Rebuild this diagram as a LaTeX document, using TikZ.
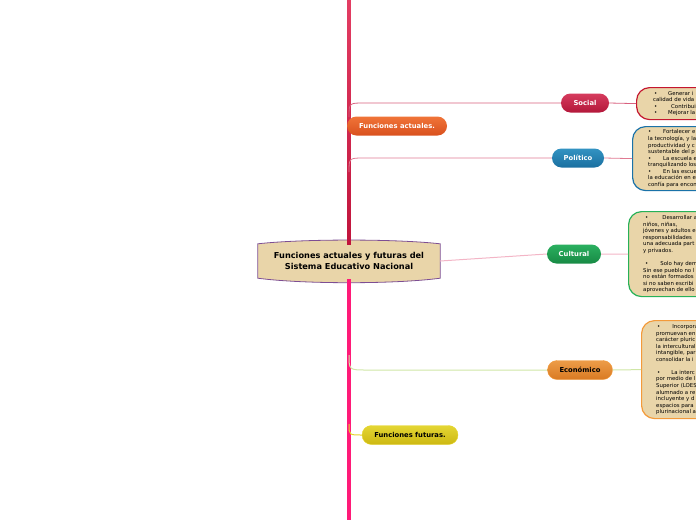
\documentclass[tikz,border=0pt]{standalone}
\usepackage{fontspec}
\setmainfont{DejaVu Sans}
\usepackage{tikz}
\usetikzlibrary{positioning, calc, backgrounds}
\definecolor{MapTan}{HTML}{E9D5A9}
\definecolor{MapPurple}{HTML}{7D4E93}
\definecolor{SpineTop}{HTML}{E33D63}
\definecolor{SpineMid}{HTML}{C0143C}
\definecolor{SpineLow}{HTML}{FF1A78}
\definecolor{SocialTop}{HTML}{D63C5E}
\definecolor{SocialLow}{HTML}{B3173A}
\definecolor{SocialLine}{HTML}{D8607E}
\definecolor{SocialEdge}{HTML}{C4162F}
\definecolor{ActualTop}{HTML}{F07438}
\definecolor{ActualLow}{HTML}{D9501E}
\definecolor{PoliticoTop}{HTML}{3393C2}
\definecolor{PoliticoLow}{HTML}{1A6FA0}
\definecolor{PoliticoLine}{HTML}{E07A92}
\definecolor{PoliticoEdge}{HTML}{1A72A8}
\definecolor{CulturalTop}{HTML}{2BB060}
\definecolor{CulturalLow}{HTML}{178A44}
\definecolor{CulturalLine}{HTML}{F3B5C6}
\definecolor{CulturalEdge}{HTML}{27B158}
\definecolor{EconomicoTop}{HTML}{EC9C48}
\definecolor{EconomicoLow}{HTML}{D97A22}
\definecolor{EconomicoLine}{HTML}{CFE6A6}
\definecolor{EconomicoEdge}{HTML}{F39A3A}
\definecolor{FuturoTop}{HTML}{E4D634}
\definecolor{FuturoLow}{HTML}{CDB812}
\definecolor{FuturoLine}{HTML}{E5D52A}

\begin{document}
\begin{tikzpicture}[x=1pt, y=-1pt,
  pill/.style={rounded corners=9.5pt, minimum height=19pt, inner sep=0pt, font=\fontsize{6.8}{8}\selectfont\bfseries, text=white},
  card/.style={rounded corners=13pt, line width=1.2pt, fill=MapTan, anchor=north west, minimum width=120pt, inner sep=0pt},
  cardtext/.style={anchor=north west, inner sep=0pt, align=left, font=\fontsize{5.4}{6.55}\selectfont}]
  \useasboundingbox (0,0) rectangle (696,520);
  \clip (0,0) rectangle (696,520);

  % spine
  \shade[top color=SpineTop, bottom color=SpineMid] (347.2,0) rectangle (350.8,244);
  \fill[SpineLow] (347.2,279) rectangle (350.8,520);
  \coordinate (s1) at (349,117);
  \coordinate (s2) at (349,172);
  \coordinate (s3) at (349,355);
  \coordinate (s4) at (349,424);

  % central topic
  \node[minimum width=182pt, minimum height=36pt, align=center, font=\fontsize{8.2}{11}\selectfont\bfseries] (root) at (349,261) {Funciones actuales y futuras del\\Sistema Educativo Nacional};
  \begin{scope}[on background layer]
    \draw[MapPurple, line width=0.8pt, fill=MapTan] ($(root.north west)+(0,1)$) -- ($(root.south west)+(0,-1)$)
      .. controls +(45,6) and +(-45,6) .. ($(root.south east)+(0,-1)$) -- ($(root.north east)+(0,1)$)
      .. controls +(-45,-5) and +(45,-5) .. ($(root.north west)+(0,1)$) -- cycle;
  \end{scope}

  % main topics
  \node[pill, minimum width=100pt, top color=ActualTop, bottom color=ActualLow] (actuales) at (397,126) {Funciones actuales.};
  \node[pill, minimum width=96pt, top color=FuturoTop, bottom color=FuturoLow, draw=FuturoLine, text=black] (futuras) at (410,435) {Funciones futuras.};

  % subtopics
  \node[pill, minimum width=48pt, top color=SocialTop, bottom color=SocialLow] (social) at (585,103) {Social};
  \node[pill, minimum width=52pt, top color=PoliticoTop, bottom color=PoliticoLow] (politico) at (578,158) {Político};
  \node[pill, minimum width=54pt, top color=CulturalTop, bottom color=CulturalLow] (cultural) at (574,254) {Cultural};
  \node[pill, minimum width=65pt, top color=EconomicoTop, bottom color=EconomicoLow, draw=EconomicoEdge, text=black] (economico) at (580,370) {Económico};

  % notes
  \node[card, draw=SocialEdge, minimum height=32pt] (socialcard) at (636,87) {};
  \node[card, draw=PoliticoEdge, minimum height=64pt] (politicocard) at (632,126) {};
  \node[card, draw=CulturalEdge, minimum height=85pt] (culturalcard) at (628,211) {};
  \node[card, draw=EconomicoEdge, minimum height=98pt] (economicocard) at (641,320) {};

  \node[cardtext] (socialtext) at ($(socialcard.north west)+(17,4)$) {%
    \hspace{1pt}•\hspace{10.8pt}Generar i\\
    calidad de vida\\
    \hspace{1pt}•\hspace{13.8pt}Contribui\\
    \hspace{1pt}•\hspace{10.8pt}Mejorar la};
  \node[cardtext] (politicotext) at ($(politicocard.north west)+(16,3.6)$) {%
    •\hspace{11.8pt}Fortalecer e\\
    la tecnología, y la\\
    productividad y c\\
    sustentable del p\\
    •\hspace{11.8pt}La escuela e\\
    tranquilizando los\\
    •\hspace{11.8pt}En las escue\\
    la educación en el\\
    confía para encon};
  \node[cardtext] (culturaltext) at ($(culturalcard.north west)+(15,4.4)$) {%
    \hspace{2pt}•\hspace{14pt}Desarrollar a\\
    niños, niñas,\\
    jóvenes y adultos e\\
    responsabilidades\\
    una adecuada part\\
    y privados.\\[6.55pt]
    \hspace{2pt}•\hspace{12pt}Solo hay dem\\
    Sin ese pueblo no l\\
    no están formados\\
    si no saben escribi\\
    aprovechan de ello};
  \node[cardtext] (economicotext) at ($(economicocard.north west)+(15,4.4)$) {%
    \hspace{1pt}•\hspace{12pt}Incorpora\\
    promuevan en\\
    carácter pluric\\
    la intercultural\\
    intangible, par\\
    consolidar la i\\[6.55pt]
    \hspace{1pt}•\hspace{11pt}La interc\\
    por medio de l\\
    Superior (LOES\\
    alumnado a re\\
    incluyente y d\\
    espacios para\\
    plurinacional a};

  % connectors
  \draw[SocialLine, line width=0.8pt] (s1) .. controls (349,103) .. (364,103) -- (social.west);
  \draw[PoliticoLine, line width=0.8pt] (s2) .. controls (349,158) .. (364,158) -- (politico.west);
  \draw[EconomicoLine, line width=1pt] (s3) .. controls (349,370) .. (367,370) -- (economico.west);
  \draw[FuturoLine, line width=1pt] (s4) .. controls (349,435) .. (futuras.west);
  \draw[CulturalLine, line width=1pt] (root.east) -- (cultural.west);
  \draw[SocialLine, line width=0.8pt] (social.east) -- (socialcard.west);
  \draw[PoliticoLine, line width=0.8pt] (politico.east) -- (politicocard.west);
  \draw[CulturalLine, line width=1pt] (cultural.east) -- (culturalcard.west);
  \draw[EconomicoLine, line width=1pt] (economico.east) -- (economicocard.west);
\end{tikzpicture}
\end{document}
